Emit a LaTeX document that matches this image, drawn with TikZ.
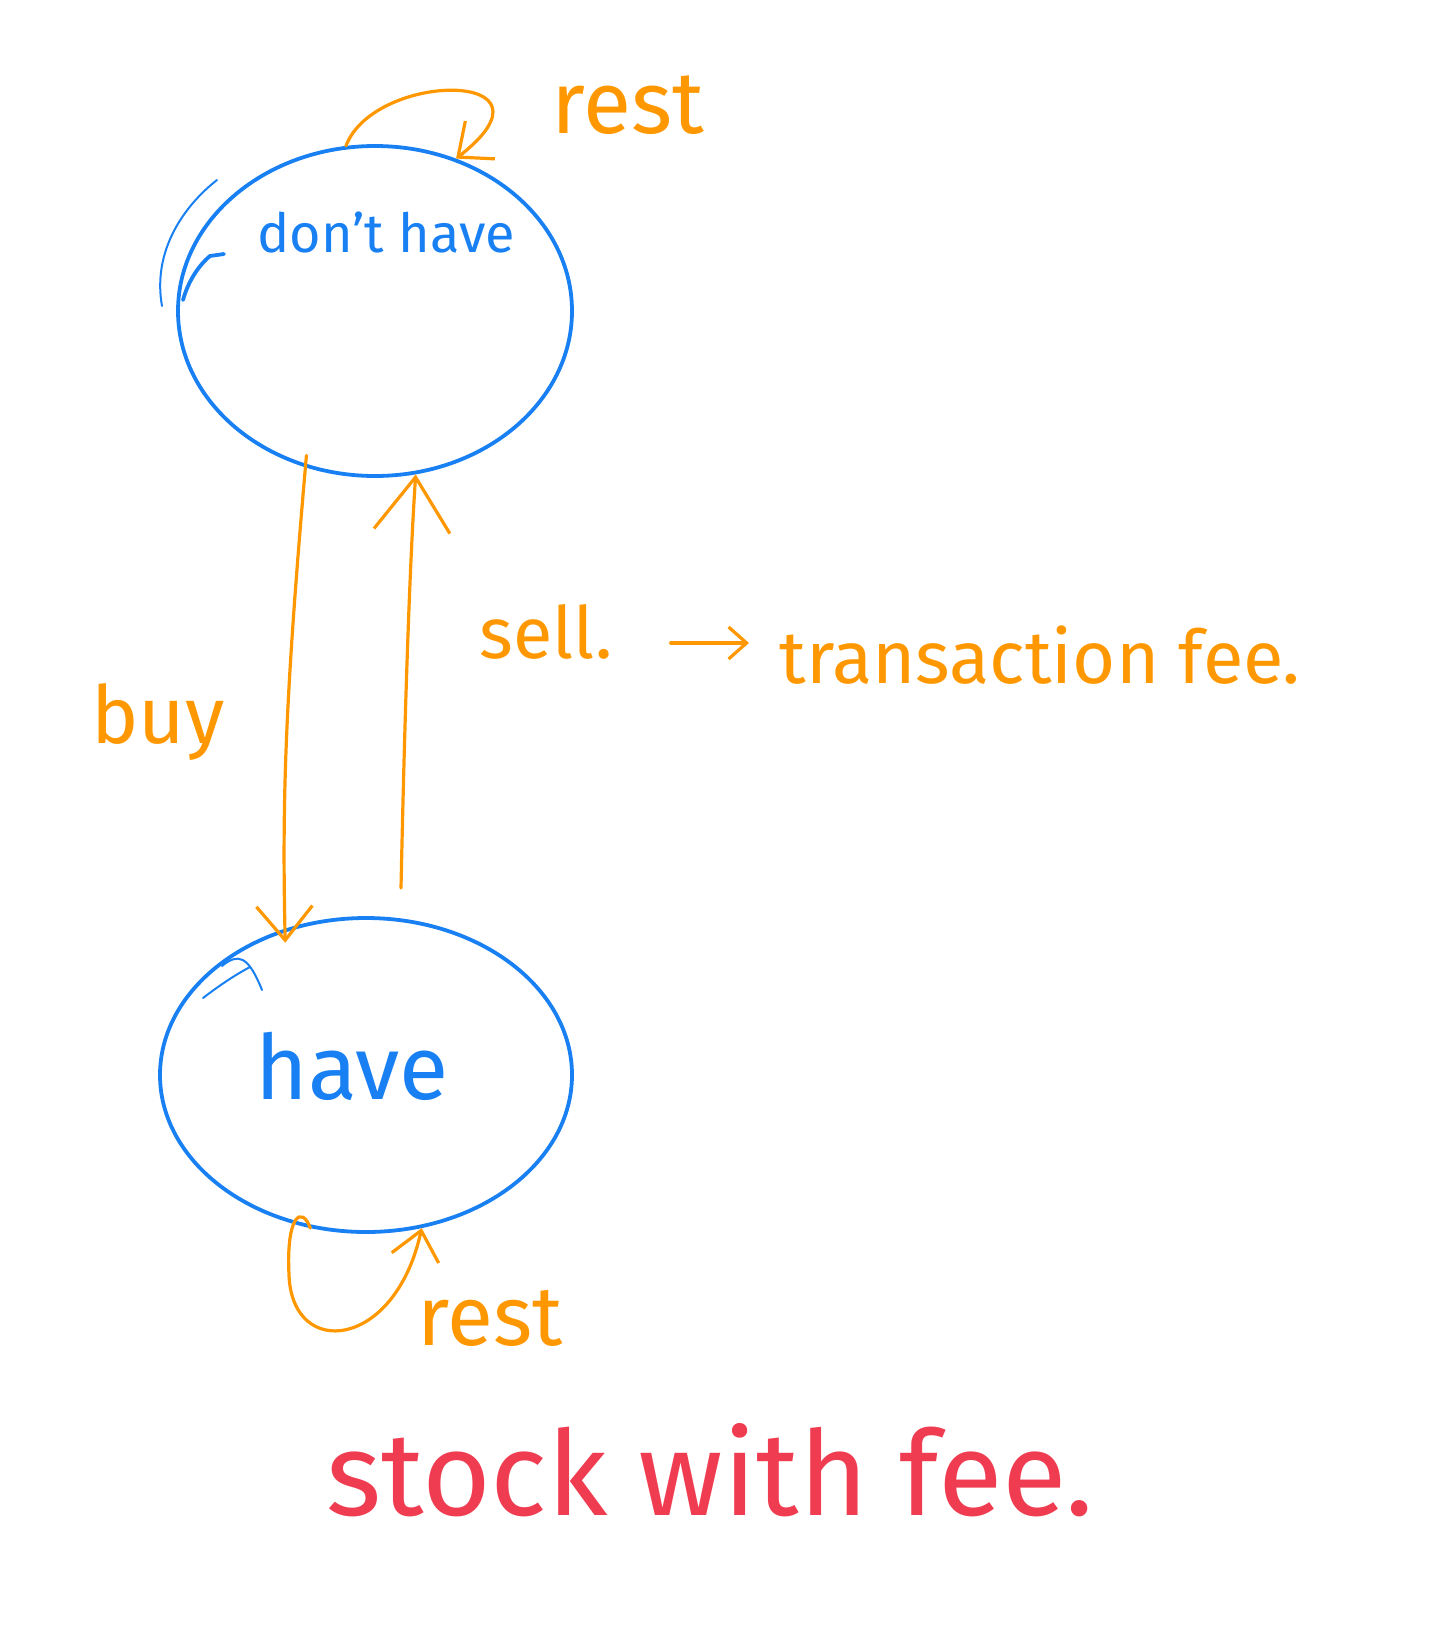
\documentclass[tikz,border=0pt]{standalone}
\usepackage{fontspec}
\setmainfont{Fira Sans}
\usetikzlibrary{arrows.meta,shapes.geometric}
\definecolor{hblue}{RGB}{24,128,242}
\definecolor{horange}{RGB}{255,152,0}
\definecolor{hred}{RGB}{240,60,80}
\begin{document}
\begin{tikzpicture}[x=0.5pt,y=-0.5pt,
  state/.style={ellipse, draw=hblue, line width=1.9pt, inner sep=0pt},
  trans/.style={draw=horange, line width=1.6pt, line cap=round,
    -{Straight Barb[length=14pt,width=24pt,line width=1.6pt]}},
  bigtip/.style={-{Straight Barb[length=27pt,width=38pt,line width=1.6pt]}},
  midtip/.style={-{Straight Barb[length=17pt,width=28pt,line width=1.6pt]}},
  small/.style={draw=horange, line width=1.6pt, line cap=round,
    -{Straight Barb[length=9pt,width=16pt,line width=1.6pt]}},
  bluetxt/.style={text=hblue, inner sep=0pt},
  orangetxt/.style={text=horange, inner sep=0pt},
  redtxt/.style={text=hred, inner sep=0pt},
  extra/.style={draw=hblue, line width=1pt, line cap=round}]
\useasboundingbox (0,0) rectangle (1438,1638);
% states
\node[state, minimum width=197pt, minimum height=165pt] (dh) at (375,311) {};
\node[state, minimum width=206pt, minimum height=157pt] (hv) at (366,1075) {};
\node[bluetxt, font=\fontsize{27}{31}\selectfont] (dht) at (386,232) {don't have};
\node[bluetxt, font=\fontsize{45}{50}\selectfont] (hvt) at (352,1066) {have};
% extra strokes of the hand-drawn outlines
\draw[extra] (217,180) .. controls (185,205) and (152,250) .. (162,306);
\draw[extra, line width=1.9pt] (224,254) -- (210,256) .. controls (198,266) and (188,282) .. (183,300);
\draw[extra] (203,998) .. controls (220,985) and (235,975) .. (250,967);
\draw[extra] (222,966) .. controls (238,953) and (248,955) .. (262,990);
% transitions
\coordinate (sellstart) at (401,888);
\draw[trans, midtip, shorten <=-6pt, shorten >=-7pt] (dh.246) .. controls (285,700) and (282,800) .. (hv.119);
\draw[trans, bigtip] (sellstart) .. controls (405,700) and (410,560) .. (dh.284);
\draw[trans] (dh.100) .. controls (375,70) and (570,70) .. (dh.62);
\draw[trans] (hv.250) .. controls (302,1205) and (286,1215) .. (289,1275)
   .. controls (292,1360) and (395,1350) .. (hv.290);
% labels
\node[orangetxt, font=\fontsize{40}{46}\selectfont] (buy) at (158,722) {buy};
\node[orangetxt, font=\fontsize{36}{42}\selectfont] (sellt) at (546,632) {sell.};
\node[orangetxt, font=\fontsize{37}{42}\selectfont] (trt) at (1040,655) {transaction fee.};
\coordinate (feeend) at ([yshift=6pt]trt.west);
\coordinate (feestart) at (sellt.east |- feeend);
\draw[small, shorten <=29pt, shorten >=15pt] (feestart) -- (feeend);
\node[orangetxt, font=\fontsize{44}{50}\selectfont] (rest1) at (628,105) {rest};
\node[orangetxt, font=\fontsize{42}{48}\selectfont] (rest2) at (490,1318) {rest};
\node[redtxt, font=\fontsize{59}{66}\selectfont] (title) at (710,1470) {stock with fee.};
\end{tikzpicture}
\end{document}
